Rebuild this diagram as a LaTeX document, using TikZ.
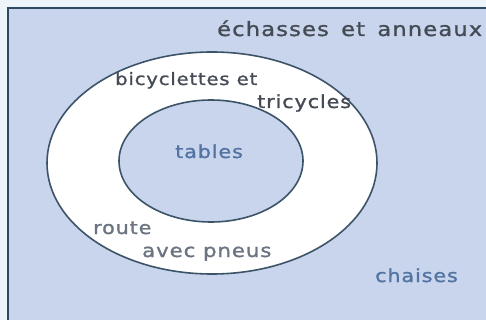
\documentclass[tikz,border=0pt]{standalone}
\usepackage{fontspec}
\usetikzlibrary{shapes.geometric}
\setmainfont{DejaVu Sans}
\newfontfamily\lblfont[LetterSpace=5,FakeStretch=1.15,FakeBold=1.2]{DejaVu Sans}
\newfontfamily\titlefont[LetterSpace=6,FakeStretch=1.15,FakeBold=1.2]{DejaVu Sans}
\definecolor{outerbg}{HTML}{EEF5FA}
\definecolor{framebg}{HTML}{C9D5EC}
\definecolor{framedraw}{HTML}{2E4A5E}
\definecolor{ringdraw}{HTML}{3C5368}
\definecolor{darktxt}{HTML}{454B55}
\definecolor{bluetxt}{HTML}{5373A3}
\definecolor{graytxt}{HTML}{6B7480}
\begin{document}
\begin{tikzpicture}[x=1pt,y=-1pt,
  lbl/.style={inner sep=0pt,anchor=base west,font=\lblfont\fontsize{18}{20}\selectfont},
  ring/.style={draw=ringdraw,line width=1.6pt}]
\useasboundingbox (0,0) rectangle (486,320);
\fill[outerbg] (0,0) rectangle (486,320);
\fill[framebg] (8,8) rectangle (486,320);
\draw[framedraw,line width=2.5pt] (8,330) -- (8,8) -- (496,8);
\node[ring,fill=white,ellipse,minimum width=330pt,minimum height=222pt,inner sep=0pt] (outer) at (212,163) {};
\node[ring,fill=framebg,ellipse,minimum width=184pt,minimum height=122pt,inner sep=0pt] (inner) at (211,161) {};
\node[lbl,text=darktxt,font=\titlefont\fontsize{19.6}{22}\selectfont] (ech) at (217,36) {échasses\hspace{4pt} et\hspace{4pt} anneaux};
\node[lbl,text=darktxt,font=\lblfont\fontsize{17}{19}\selectfont] (bic) at (115,85) {bicyclettes et};
\node[lbl,text=darktxt] (tri) at (257,108) {tricycles};
\node[lbl,text=bluetxt] (tab) at (175,158) {tables};
\node[lbl,text=graytxt] (rou) at (93,234) {route};
\node[lbl,text=graytxt,font=\lblfont\fontsize{18.5}{20}\selectfont] (ave) at (142,257) {avec pneus};
\node[lbl,text=bluetxt] (cha) at (375,282) {chaises};
\end{tikzpicture}
\end{document}
